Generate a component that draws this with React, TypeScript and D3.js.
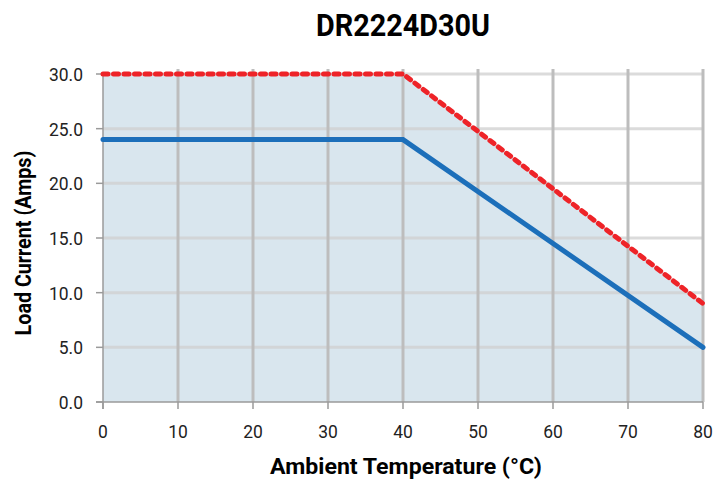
import { useEffect, useRef } from "react";
import * as d3 from "d3";

const title = "DR2224D30U";
const temps = [0, 40, 80];
const maxCurrent = [30, 30, 9];
const ratedCurrent = [24, 24, 5];
const xTicks = [0, 10, 20, 30, 40, 50, 60, 70, 80];
const yTicks = [0, 5, 10, 15, 20, 25, 30];

const FONT = "Roboto, 'Liberation Sans', sans-serif";

export default function App() {
  const svgRef = useRef<SVGSVGElement>(null);

  useEffect(() => {
    if (!svgRef.current) return;
    const svg = d3.select(svgRef.current);
    svg.selectAll("*").remove();

    const x = d3.scaleLinear().domain([0, 80]).range([103, 703]);
    const y = d3.scaleLinear().domain([0, 30]).range([402, 74]);
    const top = 69;

    // text helper: squeeze/stretch horizontally (condensed look)
    const label = (
      tx: number,
      ty: number,
      txt: string,
      size: number,
      anchor: string,
      opts: { bold?: boolean; rotate?: number; sx?: number; width?: number } = {}
    ) => {
      const t = svg
        .append("text")
        .attr("text-anchor", anchor)
        .style("font-family", FONT)
        .style("font-weight", opts.bold ? "bold" : "normal")
        .style("font-size", `${size}px`)
        .attr("fill", opts.bold ? "#000" : "#222")
        .text(txt);
      let sx = opts.sx ?? 0.9;
      if (opts.width) {
        const len = (t.node() as SVGTextElement).getComputedTextLength();
        if (len > 0) sx = opts.width / len;
      }
      t.attr(
        "transform",
        `translate(${tx},${ty}) rotate(${opts.rotate ?? 0}) scale(${sx},1)`
      );
      return t;
    };

    // Fill under the max curve
    const area = d3
      .area<number>()
      .x((_, i) => x(temps[i]))
      .y0(y(0))
      .y1((d) => y(d));
    svg
      .append("path")
      .attr("d", area(maxCurrent))
      .attr("fill", "#d9e6ee");

    // Horizontal grid
    svg
      .append("g")
      .selectAll("line")
      .data(yTicks.filter((d) => d > 0))
      .enter()
      .append("line")
      .attr("x1", x(0))
      .attr("x2", x(80))
      .attr("y1", (d) => y(d))
      .attr("y2", (d) => y(d))
      .attr("stroke", "#cfcfcf")
      .attr("stroke-opacity", 0.75)
      .attr("stroke-width", 3);

    // Vertical grid
    svg
      .append("g")
      .selectAll("line")
      .data(xTicks.filter((d) => d > 0))
      .enter()
      .append("line")
      .attr("x1", (d) => x(d))
      .attr("x2", (d) => x(d))
      .attr("y1", top)
      .attr("y2", y(0))
      .attr("stroke", "#bdbdbd")
      .attr("stroke-width", 3);

    // Axes
    const axisColor = "#9a9a9a";
    svg
      .append("line")
      .attr("x1", x(0))
      .attr("x2", x(0))
      .attr("y1", y(30))
      .attr("y2", y(0) + 7)
      .attr("stroke", axisColor)
      .attr("stroke-width", 1.5);
    svg
      .append("line")
      .attr("x1", x(0) - 7)
      .attr("x2", x(80))
      .attr("y1", y(0))
      .attr("y2", y(0))
      .attr("stroke", axisColor)
      .attr("stroke-width", 1.5);

    svg
      .append("g")
      .selectAll("line")
      .data(yTicks)
      .enter()
      .append("line")
      .attr("x1", x(0) - 7)
      .attr("x2", x(0))
      .attr("y1", (d) => y(d))
      .attr("y2", (d) => y(d))
      .attr("stroke", axisColor)
      .attr("stroke-width", 1.5);
    svg
      .append("g")
      .selectAll("line")
      .data(xTicks)
      .enter()
      .append("line")
      .attr("x1", (d) => x(d))
      .attr("x2", (d) => x(d))
      .attr("y1", y(0))
      .attr("y2", y(0) + 7)
      .attr("stroke", axisColor)
      .attr("stroke-width", 1.5);

    yTicks.forEach((d) => label(83, y(d) + 7, d.toFixed(1), 19, "end", { sx: 0.92 }));
    xTicks.forEach((d) => label(x(d), 438, String(d), 19, "middle", { sx: 0.92 }));

    // Lines
    const line = d3
      .line<number>()
      .x((_, i) => x(temps[i]))
      .y((d) => y(d));

    svg
      .append("path")
      .attr("d", line(ratedCurrent))
      .attr("fill", "none")
      .attr("stroke", "#1c6fba")
      .attr("stroke-width", 5)
      .attr("stroke-linecap", "round");

    svg
      .append("path")
      .attr("d", line(maxCurrent))
      .attr("fill", "none")
      .attr("stroke", "#ee2328")
      .attr("stroke-width", 5)
      .attr("stroke-linecap", "round")
      .attr("stroke-dasharray", "5 5.5");

    // Titles
    label(403, 36, title, 32, "middle", { bold: true, width: 174 });
    label(406, 474, "Ambient Temperature (°C)", 22, "middle", { bold: true, width: 272 });
    label(31, 243, "Load Current (Amps)", 22, "middle", { bold: true, rotate: -90, width: 185 });
  }, []);

  return (
    <svg
      ref={svgRef}
      width={725}
      height={485}
      style={{ position: "absolute", left: 0, top: 0, background: "#fff" }}
    ></svg>
  );
}
